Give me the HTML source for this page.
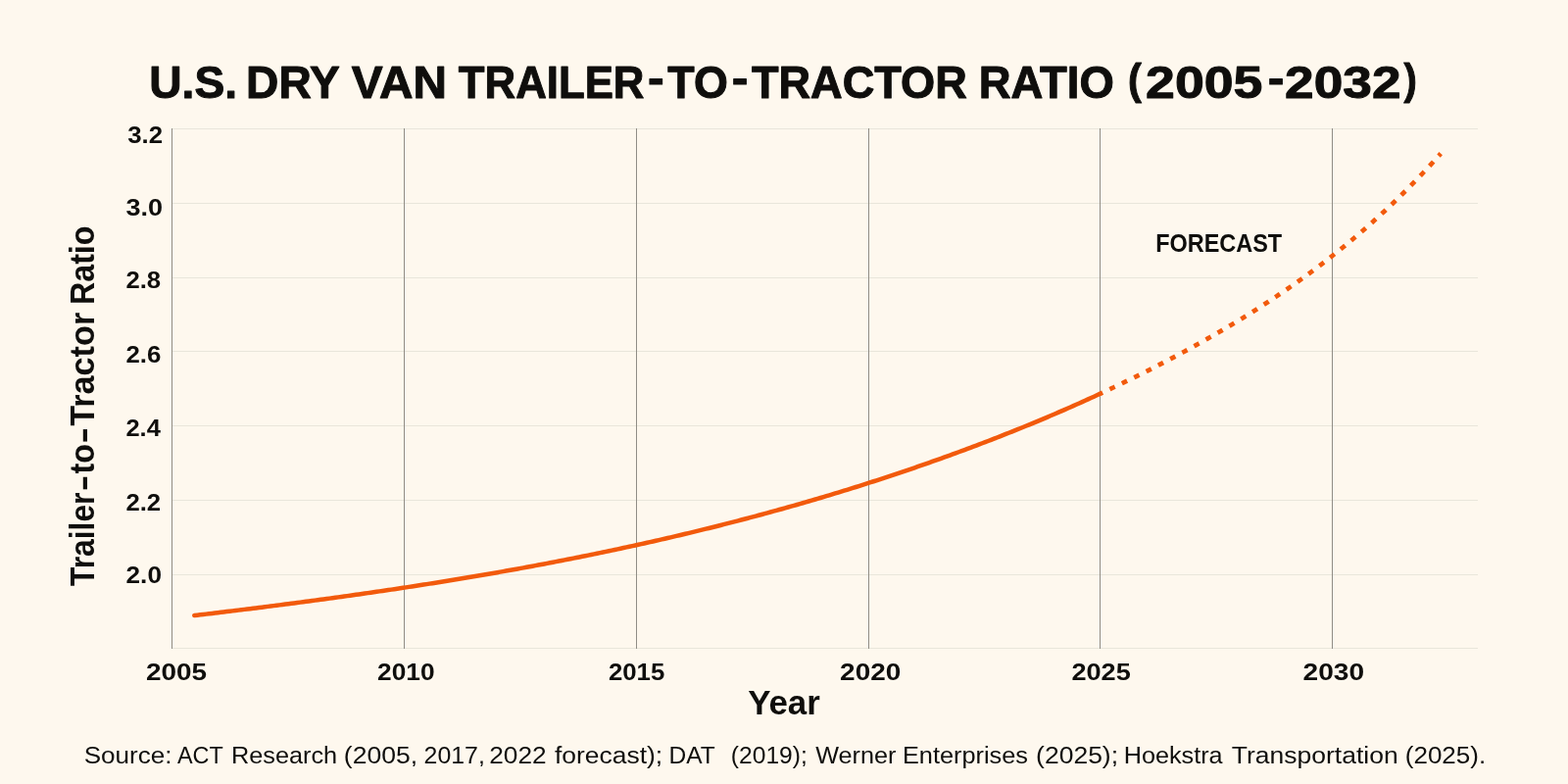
<!DOCTYPE html>
<html lang="en"><head><meta charset="utf-8"><title>U.S. Dry Van Trailer-to-Tractor Ratio (2005-2032)</title>
<style>
html,body{margin:0;padding:0;background:#fef8ee;}
body{width:1600px;height:800px;overflow:hidden;}
svg{display:block;}
text{font-family:"Liberation Sans",sans-serif;fill:#0f0e0c;}
.t{font-size:46.70px;font-weight:700;stroke:#0f0e0c;stroke-width:1.00px;stroke-linejoin:round;}
.tp{font-size:44.00px;font-weight:700;stroke:#0f0e0c;stroke-width:1.00px;stroke-linejoin:round;}
.k{font-size:24.70px;font-weight:700;}
.a{font-size:34.30px;font-weight:700;}
.f{font-size:25.10px;font-weight:700;}
.s{font-size:24.40px;font-weight:400;}
</style></head><body>
<svg width="1600" height="800" viewBox="0 0 1600 800">
<rect x="0" y="0" width="1600" height="800" fill="#fef8ee"/>
<g stroke="#e9e6db" stroke-width="1.00">
<line x1="175" y1="131.50" x2="1508" y2="131.50"/>
<line x1="175" y1="207.50" x2="1508" y2="207.50"/>
<line x1="175" y1="283.50" x2="1508" y2="283.50"/>
<line x1="175" y1="358.50" x2="1508" y2="358.50"/>
<line x1="175" y1="434.50" x2="1508" y2="434.50"/>
<line x1="175" y1="510.50" x2="1508" y2="510.50"/>
<line x1="175" y1="586.50" x2="1508" y2="586.50"/>
<line x1="175" y1="661.50" x2="1508" y2="661.50"/>
</g>
<g stroke="#908d86" stroke-width="1.00">
<line x1="175.50" y1="131" x2="175.50" y2="662"/>
<line x1="412.50" y1="131" x2="412.50" y2="662"/>
<line x1="649.50" y1="131" x2="649.50" y2="662"/>
<line x1="886.50" y1="131" x2="886.50" y2="662"/>
<line x1="1122.50" y1="131" x2="1122.50" y2="662"/>
<line x1="1359.50" y1="131" x2="1359.50" y2="662"/>
</g>
<path d="M198.30 628.03 L201.30 627.68 L204.30 627.33 L207.30 626.97 L210.30 626.61 L213.30 626.26 L216.30 625.90 L219.30 625.54 L222.30 625.18 L225.30 624.82 L228.30 624.46 L231.30 624.09 L234.30 623.73 L237.30 623.36 L240.30 623.00 L243.30 622.63 L246.30 622.26 L249.30 621.89 L252.30 621.52 L255.30 621.15 L258.30 620.77 L261.30 620.40 L264.30 620.02 L267.30 619.65 L270.30 619.27 L273.30 618.89 L276.30 618.51 L279.30 618.13 L282.30 617.74 L285.30 617.36 L288.30 616.97 L291.30 616.59 L294.30 616.20 L297.30 615.81 L300.30 615.42 L303.30 615.02 L306.30 614.63 L309.30 614.23 L312.30 613.84 L315.30 613.44 L318.30 613.04 L321.30 612.64 L324.30 612.23 L327.30 611.83 L330.30 611.42 L333.30 611.01 L336.30 610.61 L339.30 610.19 L342.30 609.78 L345.30 609.37 L348.30 608.95 L351.30 608.53 L354.30 608.12 L357.30 607.69 L360.30 607.27 L363.30 606.85 L366.30 606.42 L369.30 605.99 L372.30 605.57 L375.30 605.13 L378.30 604.70 L381.30 604.27 L384.30 603.83 L387.30 603.39 L390.30 602.95 L393.30 602.51 L396.30 602.06 L399.30 601.62 L402.30 601.17 L405.30 600.72 L408.30 600.27 L411.30 599.82 L414.30 599.36 L417.30 598.90 L420.30 598.44 L423.30 597.98 L426.30 597.52 L429.30 597.05 L432.30 596.58 L435.30 596.11 L438.30 595.64 L441.30 595.17 L444.30 594.69 L447.30 594.21 L450.30 593.73 L453.30 593.25 L456.30 592.76 L459.30 592.28 L462.30 591.79 L465.30 591.30 L468.30 590.80 L471.30 590.31 L474.30 589.81 L477.30 589.31 L480.30 588.80 L483.30 588.30 L486.30 587.79 L489.30 587.28 L492.30 586.77 L495.30 586.25 L498.30 585.74 L501.30 585.22 L504.30 584.69 L507.30 584.17 L510.30 583.64 L513.30 583.11 L516.30 582.58 L519.30 582.05 L522.30 581.51 L525.30 580.97 L528.30 580.43 L531.30 579.88 L534.30 579.34 L537.30 578.79 L540.30 578.23 L543.30 577.68 L546.30 577.12 L549.30 576.56 L552.30 576.00 L555.30 575.43 L558.30 574.86 L561.30 574.29 L564.30 573.72 L567.30 573.14 L570.30 572.56 L573.30 571.98 L576.30 571.39 L579.30 570.80 L582.30 570.21 L585.30 569.62 L588.30 569.02 L591.30 568.42 L594.30 567.82 L597.30 567.21 L600.30 566.61 L603.30 566.00 L606.30 565.38 L609.30 564.76 L612.30 564.14 L615.30 563.52 L618.30 562.89 L621.30 562.26 L624.30 561.63 L627.30 561.00 L630.30 560.36 L633.30 559.72 L636.30 559.07 L639.30 558.42 L642.30 557.77 L645.30 557.12 L648.30 556.46 L651.30 555.80 L654.30 555.14 L657.30 554.47 L660.30 553.80 L663.30 553.13 L666.30 552.45 L669.30 551.77 L672.30 551.09 L675.30 550.40 L678.30 549.71 L681.30 549.02 L684.30 548.32 L687.30 547.62 L690.30 546.92 L693.30 546.21 L696.30 545.50 L699.30 544.79 L702.30 544.07 L705.30 543.35 L708.30 542.63 L711.30 541.90 L714.30 541.17 L717.30 540.43 L720.30 539.69 L723.30 538.95 L726.30 538.21 L729.30 537.46 L732.30 536.71 L735.30 535.95 L738.30 535.19 L741.30 534.43 L744.30 533.66 L747.30 532.89 L750.30 532.11 L753.30 531.34 L756.30 530.55 L759.30 529.77 L762.30 528.98 L765.30 528.19 L768.30 527.39 L771.30 526.59 L774.30 525.78 L777.30 524.98 L780.30 524.16 L783.30 523.35 L786.30 522.53 L789.30 521.70 L792.30 520.87 L795.30 520.04 L798.30 519.21 L801.30 518.37 L804.30 517.52 L807.30 516.68 L810.30 515.82 L813.30 514.97 L816.30 514.11 L819.30 513.25 L822.30 512.38 L825.30 511.51 L828.30 510.63 L831.30 509.75 L834.30 508.86 L837.30 507.98 L840.30 507.08 L843.30 506.19 L846.30 505.29 L849.30 504.38 L852.30 503.47 L855.30 502.56 L858.30 501.64 L861.30 500.72 L864.30 499.79 L867.30 498.86 L870.30 497.92 L873.30 496.99 L876.30 496.04 L879.30 495.09 L882.30 494.14 L885.30 493.18 L888.30 492.22 L891.30 491.26 L894.30 490.29 L897.30 489.31 L900.30 488.33 L903.30 487.35 L906.30 486.36 L909.30 485.37 L912.30 484.37 L915.30 483.37 L918.30 482.36 L921.30 481.35 L924.30 480.34 L927.30 479.32 L930.30 478.29 L933.30 477.26 L936.30 476.23 L939.30 475.19 L942.30 474.15 L945.30 473.10 L948.30 472.05 L951.30 470.99 L954.30 469.93 L957.30 468.86 L960.30 467.79 L963.30 466.71 L966.30 465.63 L969.30 464.54 L972.30 463.45 L975.30 462.36 L978.30 461.26 L981.30 460.15 L984.30 459.04 L987.30 457.92 L990.30 456.80 L993.30 455.68 L996.30 454.55 L999.30 453.41 L1002.30 452.27 L1005.30 451.13 L1008.30 449.98 L1011.30 448.82 L1014.30 447.66 L1017.30 446.49 L1020.30 445.32 L1023.30 444.15 L1026.30 442.96 L1029.30 441.78 L1032.30 440.58 L1035.30 439.38 L1038.30 438.18 L1041.30 436.97 L1044.30 435.75 L1047.30 434.53 L1050.30 433.30 L1053.30 432.07 L1056.30 430.83 L1059.30 429.58 L1062.30 428.33 L1065.30 427.07 L1068.30 425.81 L1071.30 424.54 L1074.30 423.26 L1077.30 421.98 L1080.30 420.69 L1083.30 419.39 L1086.30 418.09 L1089.30 416.78 L1092.30 415.46 L1095.30 414.14 L1098.30 412.81 L1101.30 411.47 L1104.30 410.13 L1107.30 408.78 L1110.30 407.42 L1113.30 406.05 L1116.30 404.68 L1119.30 403.30 L1122.30 401.91 L1122.50 401.82" fill="none" stroke="#f25a0c" stroke-width="4.50" stroke-linejoin="round" stroke-linecap="round"/>
<path d="M1122.50 401.82 L1124.50 400.89 L1126.50 399.96 L1128.50 399.02 L1130.50 398.09 L1132.50 397.14 L1134.50 396.20 L1136.50 395.25 L1138.50 394.30 L1140.50 393.34 L1142.50 392.38 L1144.50 391.42 L1146.50 390.45 L1148.50 389.48 L1150.50 388.51 L1152.50 387.53 L1154.50 386.55 L1156.50 385.57 L1158.50 384.58 L1160.50 383.59 L1162.50 382.60 L1164.50 381.60 L1166.50 380.60 L1168.50 379.59 L1170.50 378.58 L1172.50 377.57 L1174.50 376.56 L1176.50 375.54 L1178.50 374.51 L1180.50 373.49 L1182.50 372.45 L1184.50 371.42 L1186.50 370.38 L1188.50 369.34 L1190.50 368.29 L1192.50 367.24 L1194.50 366.19 L1196.50 365.13 L1198.50 364.07 L1200.50 363.00 L1202.50 361.93 L1204.50 360.86 L1206.50 359.78 L1208.50 358.70 L1210.50 357.61 L1212.50 356.52 L1214.50 355.43 L1216.50 354.33 L1218.50 353.23 L1220.50 352.12 L1222.50 351.01 L1224.50 349.90 L1226.50 348.78 L1228.50 347.66 L1230.50 346.53 L1232.50 345.40 L1234.50 344.26 L1236.50 343.12 L1238.50 341.98 L1240.50 340.83 L1242.50 339.67 L1244.50 338.51 L1246.50 337.35 L1248.50 336.18 L1250.50 335.00 L1252.50 333.82 L1254.50 332.64 L1256.50 331.45 L1258.50 330.25 L1260.50 329.05 L1262.50 327.84 L1264.50 326.63 L1266.50 325.41 L1268.50 324.18 L1270.50 322.95 L1272.50 321.72 L1274.50 320.47 L1276.50 319.23 L1278.50 317.97 L1280.50 316.71 L1282.50 315.44 L1284.50 314.17 L1286.50 312.89 L1288.50 311.60 L1290.50 310.31 L1292.50 309.01 L1294.50 307.70 L1296.50 306.38 L1298.50 305.06 L1300.50 303.74 L1302.50 302.40 L1304.50 301.06 L1306.50 299.71 L1308.50 298.35 L1310.50 296.99 L1312.50 295.61 L1314.50 294.24 L1316.50 292.85 L1318.50 291.45 L1320.50 290.05 L1322.50 288.64 L1324.50 287.22 L1326.50 285.79 L1328.50 284.36 L1330.50 282.92 L1332.50 281.47 L1334.50 280.01 L1336.50 278.54 L1338.50 277.06 L1340.50 275.58 L1342.50 274.09 L1344.50 272.58 L1346.50 271.07 L1348.50 269.55 L1350.50 268.02 L1352.50 266.49 L1354.50 264.94 L1356.50 263.38 L1358.50 261.82 L1360.50 260.24 L1362.50 258.66 L1364.50 257.07 L1366.50 255.47 L1368.50 253.85 L1370.50 252.23 L1372.50 250.60 L1374.50 248.96 L1376.50 247.30 L1378.50 245.64 L1380.50 243.97 L1382.50 242.28 L1384.50 240.59 L1386.50 238.89 L1388.50 237.17 L1390.50 235.45 L1392.50 233.71 L1394.50 231.96 L1396.50 230.20 L1398.50 228.43 L1400.50 226.65 L1402.50 224.86 L1404.50 223.05 L1406.50 221.23 L1408.50 219.41 L1410.50 217.57 L1412.50 215.71 L1414.50 213.85 L1416.50 211.97 L1418.50 210.08 L1420.50 208.18 L1422.50 206.27 L1424.50 204.34 L1426.50 202.41 L1428.50 200.45 L1430.50 198.49 L1432.50 196.51 L1434.50 194.52 L1436.50 192.52 L1438.50 190.50 L1440.50 188.47 L1442.50 186.43 L1444.50 184.37 L1446.50 182.30 L1448.50 180.21 L1450.50 178.11 L1452.50 176.00 L1454.50 173.87 L1456.50 171.73 L1458.50 169.57 L1460.50 167.40 L1462.50 165.22 L1464.50 163.02 L1466.50 160.80 L1468.50 158.57 L1470.19 156.68" fill="none" stroke="#f25a0c" stroke-width="4.70" stroke-dasharray="5.800 8.015" stroke-dashoffset="2.900" stroke-linecap="butt"/>
<text class="t"><tspan class="t" x="152.26" y="99.70" textLength="89.85" lengthAdjust="spacingAndGlyphs">U.S.</tspan> <tspan class="t" x="251.12" y="99.70" textLength="94.86" lengthAdjust="spacingAndGlyphs">DRY</tspan> <tspan class="t" x="358.73" y="99.70" textLength="97.32" lengthAdjust="spacingAndGlyphs">VAN</tspan> <tspan class="t" x="467.87" y="99.70" textLength="189.62" lengthAdjust="spacingAndGlyphs">TRAILER</tspan><tspan class="t" x="661.05" y="95.30" textLength="16.66" lengthAdjust="spacingAndGlyphs">-</tspan><tspan class="t" x="681.36" y="99.70" textLength="61.43" lengthAdjust="spacingAndGlyphs">TO</tspan><tspan class="t" x="746.72" y="95.30" textLength="16.65" lengthAdjust="spacingAndGlyphs">-</tspan><tspan class="t" x="766.92" y="99.70" textLength="219.93" lengthAdjust="spacingAndGlyphs">TRACTOR</tspan> <tspan class="t" x="998.76" y="99.70" textLength="138.04" lengthAdjust="spacingAndGlyphs">RATIO</tspan> <tspan class="tp" x="1151.00" y="95.60" textLength="13.83" lengthAdjust="spacingAndGlyphs">(</tspan><tspan class="t" x="1169.10" y="99.70" textLength="119.31" lengthAdjust="spacingAndGlyphs">2005</tspan><tspan class="t" x="1293.72" y="95.30" textLength="16.65" lengthAdjust="spacingAndGlyphs">-</tspan><tspan class="t" x="1311.14" y="99.70" textLength="118.43" lengthAdjust="spacingAndGlyphs">2032</tspan><tspan class="tp" x="1432.59" y="95.60" textLength="13.33" lengthAdjust="spacingAndGlyphs">)</tspan></text>
<text class="k" x="130.22" y="145.90" textLength="35.88" lengthAdjust="spacingAndGlyphs">3.2</text>
<text class="k" x="128.51" y="220.30" textLength="37.54" lengthAdjust="spacingAndGlyphs">3.0</text>
<text class="k" x="128.42" y="294.10" textLength="35.72" lengthAdjust="spacingAndGlyphs">2.8</text>
<text class="k" x="128.41" y="370.10" textLength="35.91" lengthAdjust="spacingAndGlyphs">2.6</text>
<text class="k" x="128.43" y="444.90" textLength="35.43" lengthAdjust="spacingAndGlyphs">2.4</text>
<text class="k" x="128.42" y="521.10" textLength="35.76" lengthAdjust="spacingAndGlyphs">2.2</text>
<text class="k" x="128.59" y="595.30" textLength="36.37" lengthAdjust="spacingAndGlyphs">2.0</text>
<text class="k" x="148.91" y="694.10" textLength="62.07" lengthAdjust="spacingAndGlyphs">2005</text>
<text class="k" x="385.11" y="694.10" textLength="58.45" lengthAdjust="spacingAndGlyphs">2010</text>
<text class="k" x="620.94" y="694.10" textLength="57.31" lengthAdjust="spacingAndGlyphs">2015</text>
<text class="k" x="857.11" y="694.10" textLength="62.13" lengthAdjust="spacingAndGlyphs">2020</text>
<text class="k" x="1093.45" y="694.10" textLength="60.36" lengthAdjust="spacingAndGlyphs">2025</text>
<text class="k" x="1329.60" y="694.10" textLength="62.55" lengthAdjust="spacingAndGlyphs">2030</text>
<text class="a" x="763.18" y="729.00" textLength="73.65" lengthAdjust="spacingAndGlyphs">Year</text>
<text class="f" x="1179.25" y="256.70" textLength="128.94" lengthAdjust="spacingAndGlyphs">FORECAST</text>
<text class="s" xml:space="preserve"><tspan class="s" x="85.71" y="779.10" textLength="89.77" lengthAdjust="spacingAndGlyphs">Source:</tspan> <tspan class="s" x="181.03" y="779.10" textLength="46.37" lengthAdjust="spacingAndGlyphs">ACT</tspan> <tspan class="s" x="236.00" y="779.10" textLength="108.14" lengthAdjust="spacingAndGlyphs">Research</tspan> <tspan class="s" x="350.85" y="779.10" textLength="75.22" lengthAdjust="spacingAndGlyphs">(2005,</tspan> <tspan class="s" x="432.55" y="779.10" textLength="62.30" lengthAdjust="spacingAndGlyphs">2017,</tspan> <tspan class="s" x="499.22" y="779.10" textLength="58.33" lengthAdjust="spacingAndGlyphs">2022</tspan> <tspan class="s" x="565.97" y="779.10" textLength="110.17" lengthAdjust="spacingAndGlyphs">forecast);</tspan> <tspan class="s" x="682.61" y="779.10" textLength="46.76" lengthAdjust="spacingAndGlyphs">DAT</tspan>  <tspan class="s" x="745.87" y="779.10" textLength="77.91" lengthAdjust="spacingAndGlyphs">(2019);</tspan> <tspan class="s" x="832.18" y="779.10" textLength="82.16" lengthAdjust="spacingAndGlyphs">Werner</tspan> <tspan class="s" x="920.96" y="779.10" textLength="128.04" lengthAdjust="spacingAndGlyphs">Enterprises</tspan> <tspan class="s" x="1057.12" y="779.10" textLength="83.93" lengthAdjust="spacingAndGlyphs">(2025);</tspan> <tspan class="s" x="1146.77" y="779.10" textLength="100.89" lengthAdjust="spacingAndGlyphs">Hoekstra</tspan> <tspan class="s" x="1256.84" y="779.10" textLength="169.86" lengthAdjust="spacingAndGlyphs">Transportation</tspan> <tspan class="s" x="1433.77" y="779.10" textLength="82.39" lengthAdjust="spacingAndGlyphs">(2025).</tspan></text>
<text class="a" transform="translate(95.50 597.50) rotate(-90)"><tspan class="a" x="-0.49" y="0.00" textLength="95.42" lengthAdjust="spacingAndGlyphs">Trailer</tspan><tspan class="a" x="96.19" y="0.00" textLength="16.47" lengthAdjust="spacingAndGlyphs">-</tspan><tspan class="a" x="113.91" y="0.00" textLength="30.39" lengthAdjust="spacingAndGlyphs">to</tspan><tspan class="a" x="144.93" y="0.00" textLength="16.43" lengthAdjust="spacingAndGlyphs">-</tspan><tspan class="a" x="162.63" y="0.00" textLength="116.12" lengthAdjust="spacingAndGlyphs">Tractor</tspan> <tspan class="a" x="286.49" y="0.00" textLength="80.48" lengthAdjust="spacingAndGlyphs">Ratio</tspan></text>
</svg></body></html>
